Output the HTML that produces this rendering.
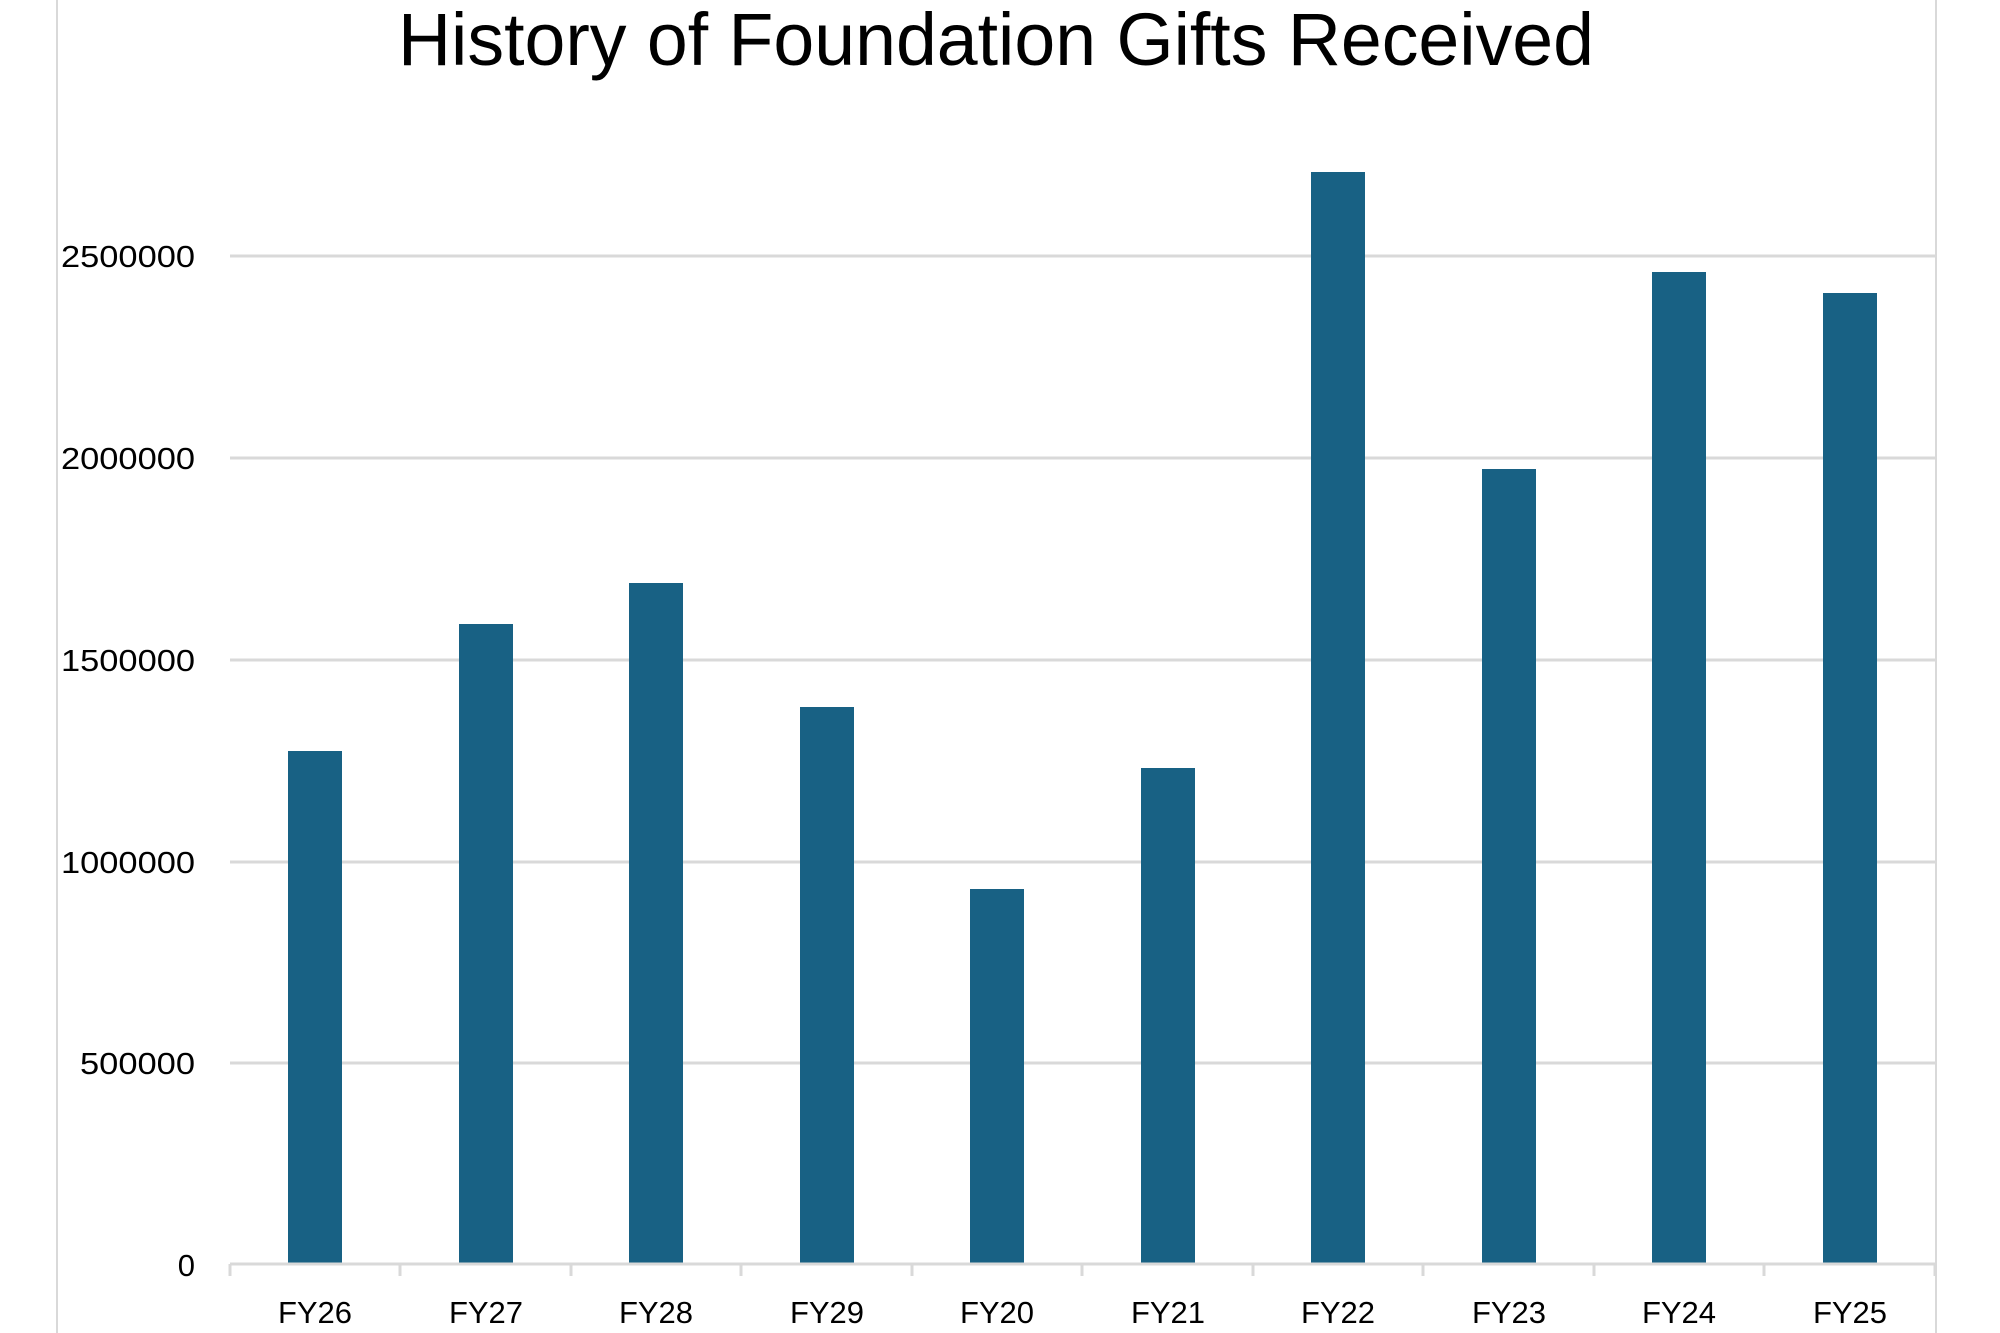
<!DOCTYPE html>
<html><head><style>
html,body{margin:0;padding:0;background:#fff;}
svg{display:block;}
</style></head><body>
<svg width="2000" height="1333" xmlns="http://www.w3.org/2000/svg">
<rect width="2000" height="1333" fill="#fff"/>
<line x1="57" y1="0" x2="57" y2="1333" stroke="#d9d9d9" stroke-width="2"/>
<line x1="1936" y1="0" x2="1936" y2="1333" stroke="#d9d9d9" stroke-width="2"/>
<text x="996" y="65" font-family="Liberation Sans, sans-serif" font-size="74" text-anchor="middle" textLength="1196" lengthAdjust="spacingAndGlyphs" fill="#000">History of Foundation Gifts Received</text>
<g stroke="#d9d9d9" stroke-width="3">
<line x1="230" y1="256" x2="1935" y2="256"/>
<line x1="230" y1="458" x2="1935" y2="458"/>
<line x1="230" y1="660" x2="1935" y2="660"/>
<line x1="230" y1="862" x2="1935" y2="862"/>
<line x1="230" y1="1063" x2="1935" y2="1063"/>
</g>
<g fill="#186184">
<rect x="288" y="751" width="54" height="513"/>
<rect x="459" y="624" width="54" height="640"/>
<rect x="629" y="583" width="54" height="681"/>
<rect x="800" y="707" width="54" height="557"/>
<rect x="970" y="889" width="54" height="375"/>
<rect x="1141" y="768" width="54" height="496"/>
<rect x="1311" y="172" width="54" height="1092"/>
<rect x="1482" y="469" width="54" height="795"/>
<rect x="1652" y="272" width="54" height="992"/>
<rect x="1823" y="293" width="54" height="971"/>
</g>
<g stroke="#d9d9d9" stroke-width="3">
<line x1="230" y1="1264" x2="1935" y2="1264"/>
<line x1="230" y1="1264" x2="230" y2="1276"/>
<line x1="400" y1="1264" x2="400" y2="1276"/>
<line x1="571" y1="1264" x2="571" y2="1276"/>
<line x1="741" y1="1264" x2="741" y2="1276"/>
<line x1="912" y1="1264" x2="912" y2="1276"/>
<line x1="1082" y1="1264" x2="1082" y2="1276"/>
<line x1="1253" y1="1264" x2="1253" y2="1276"/>
<line x1="1423" y1="1264" x2="1423" y2="1276"/>
<line x1="1594" y1="1264" x2="1594" y2="1276"/>
<line x1="1764" y1="1264" x2="1764" y2="1276"/>
<line x1="1935" y1="1264" x2="1935" y2="1276"/>
</g>
<g font-family="Liberation Sans, sans-serif" font-size="31" fill="#000" text-anchor="end">
<text x="195" y="267" textLength="134" lengthAdjust="spacingAndGlyphs">2500000</text>
<text x="195" y="469" textLength="134" lengthAdjust="spacingAndGlyphs">2000000</text>
<text x="195" y="671" textLength="134" lengthAdjust="spacingAndGlyphs">1500000</text>
<text x="195" y="873" textLength="134" lengthAdjust="spacingAndGlyphs">1000000</text>
<text x="195" y="1074" textLength="115" lengthAdjust="spacingAndGlyphs">500000</text>
<text x="195" y="1276">0</text>
</g>
<g font-family="Liberation Sans, sans-serif" font-size="31" fill="#000" text-anchor="middle">
<text x="315" y="1323">FY26</text>
<text x="486" y="1323">FY27</text>
<text x="656" y="1323">FY28</text>
<text x="827" y="1323">FY29</text>
<text x="997" y="1323">FY20</text>
<text x="1168" y="1323">FY21</text>
<text x="1338" y="1323">FY22</text>
<text x="1509" y="1323">FY23</text>
<text x="1679" y="1323">FY24</text>
<text x="1850" y="1323">FY25</text>
</g>
</svg>
</body></html>
